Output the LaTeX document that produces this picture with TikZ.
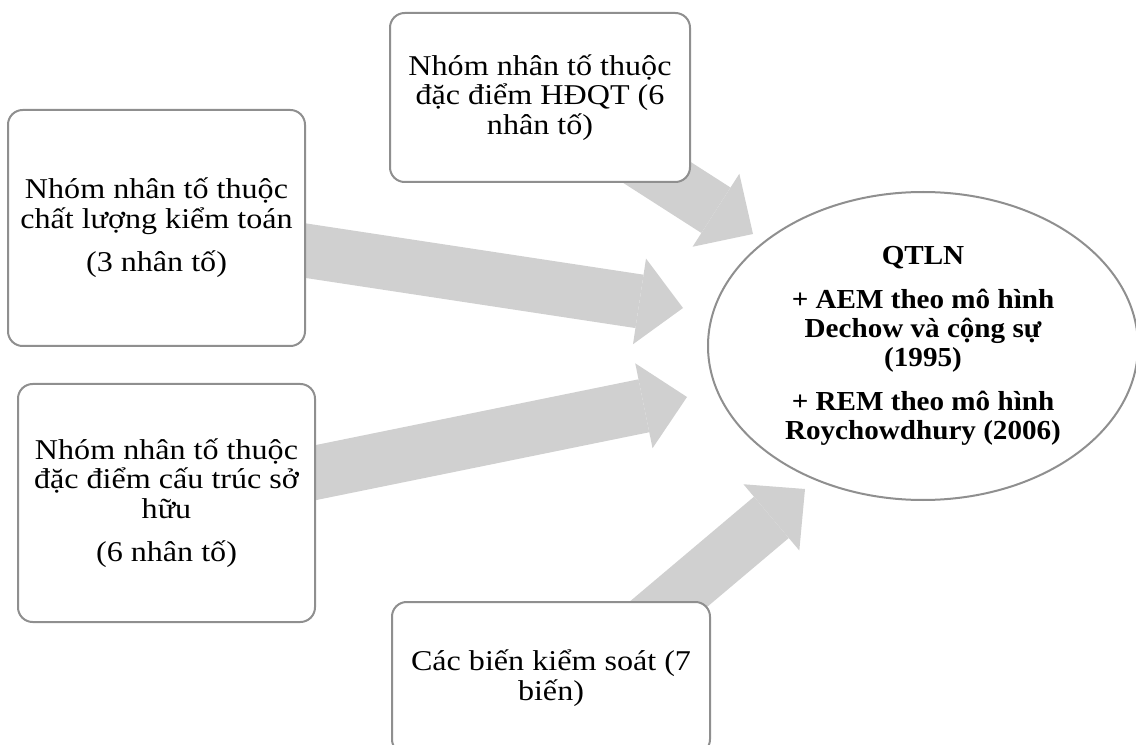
\documentclass[tikz,border=0pt]{standalone}
\usepackage{fontspec}
\setmainfont{Liberation Serif}
\newfontfamily\boxfont{Liberation Serif}[FakeStretch=1.12]
\newfontfamily\goalfont{Liberation Serif}[FakeStretch=1.06]
\usetikzlibrary{arrows.meta, positioning, shapes.geometric, calc, backgrounds}
\definecolor{cline}{HTML}{8F8F8F}
\definecolor{cfill}{HTML}{D0D0D0}
\tikzset{
  every picture/.style={line width=1.5pt},
  box/.style={draw=cline, fill=white, rounded corners=11pt, align=center, inner sep=0pt, font=\boxfont\fontsize{21.5}{22.3}\selectfont},
  bigarrow/.style={-{Triangle[length=33pt, width=65pt, line width=0pt]}, draw=cfill, line width=40.5pt},
  goal/.style={ellipse, draw=cline, fill=white, align=center, inner sep=0pt, font=\goalfont\bfseries\fontsize{20.6}{21.75}\selectfont},
}

\begin{document}
\begin{tikzpicture}[x=0.75pt, y=-0.75pt]
  \useasboundingbox (0,0) rectangle (1136,745);
  \clip (0,0) rectangle (1136,745);
  % four groups of factors
  \node[box, minimum width=225pt, minimum height=126.75pt] (hdqt) at (540,97.5) {Nhóm nhân tố thuộc\\đặc điểm HĐQT (6\\nhân tố)};
  \node[box, minimum width=222.75pt, minimum height=177pt] (audit) at (156.5,228) {Nhóm nhân tố thuộc\\chất lượng kiểm toán\\[10pt](3 nhân tố)};
  \node[box, minimum width=222.75pt, minimum height=178.5pt] (owner) at (166.5,503) {Nhóm nhân tố thuộc\\đặc điểm cấu trúc sở\\hữu\\[10pt](6 nhân tố)};
  \node[box, minimum width=238.5pt, minimum height=114pt] (ctrl) at (551,678) {Các biến kiểm soát (7\\biến)};
  % earnings management
  \node[goal, minimum width=322.5pt, minimum height=231pt] (qtln) at (923,346) {QTLN\\[11pt]+ AEM theo mô hình\\Dechow và cộng sự\\(1995)\\[11pt]+ REM theo mô hình\\Roychowdhury (2006)};
  % arrow tips stop short of the ellipse
  \coordinate (tA) at (753,234);
  \coordinate (tB) at (683,308);
  \coordinate (tC) at (687,397);
  \coordinate (tD) at (805,489);
  \begin{scope}[on background layer]
    \draw[bigarrow] (hdqt.center) -- (tA);
    \draw[bigarrow] (audit.center) -- (tB);
    \draw[bigarrow] (owner.center) -- (tC);
    \draw[bigarrow] ([xshift=22.5pt]ctrl.center) -- (tD);
  \end{scope}
\end{tikzpicture}
\end{document}
